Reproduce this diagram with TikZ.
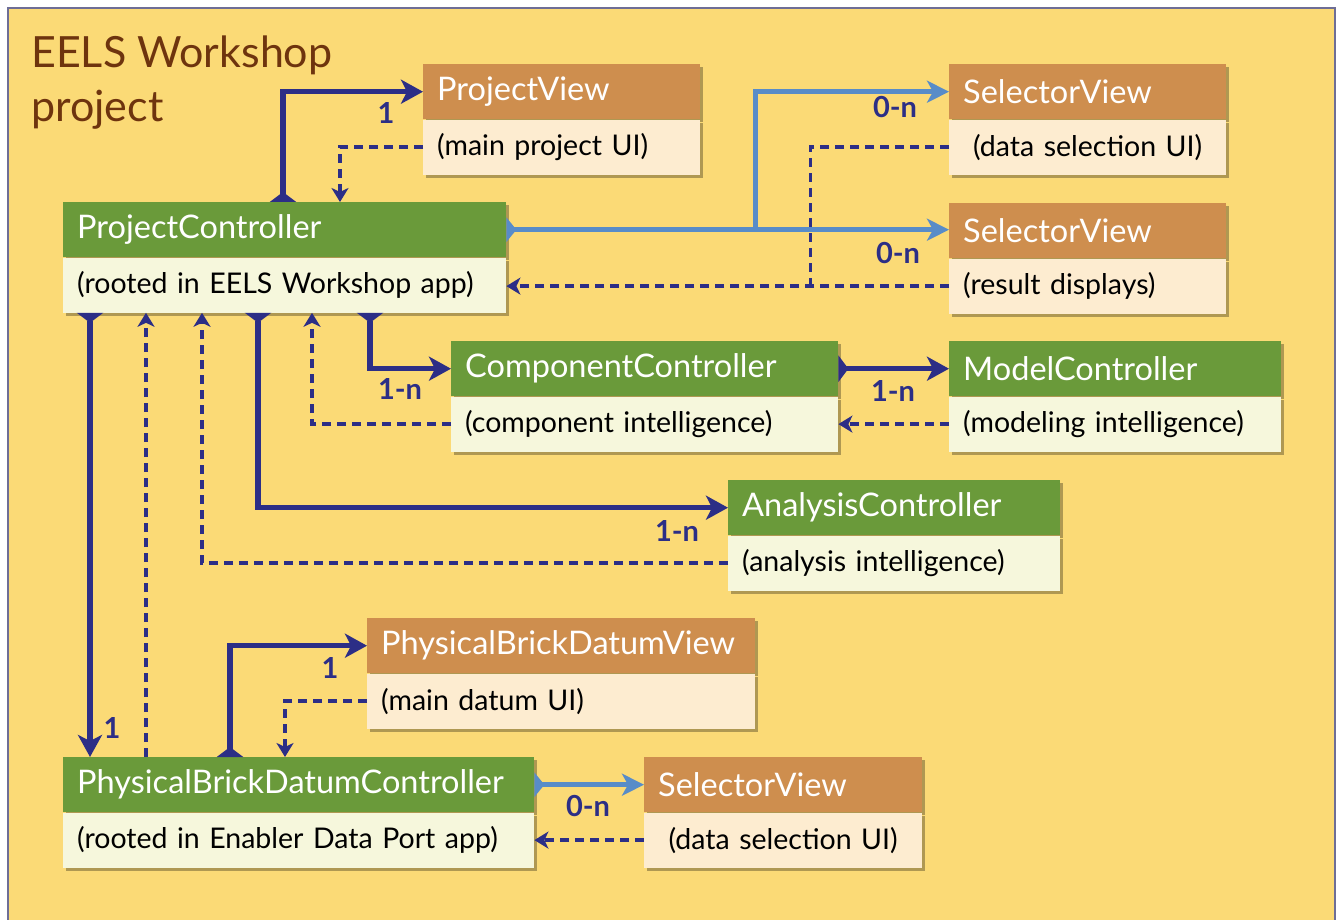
\documentclass[tikz,border=0pt]{standalone}
\usepackage{fontspec}
\setmainfont{Lato}
\usetikzlibrary{arrows.meta,positioning,shadows}
\definecolor{bgyellow}{RGB}{251,218,118}
\definecolor{framecol}{RGB}{110,110,150}
\definecolor{ctrlgreen}{RGB}{106,154,58}
\definecolor{vieworange}{RGB}{206,142,78}
\definecolor{ctrlpale}{RGB}{246,247,220}
\definecolor{viewpale}{RGB}{253,236,208}
\definecolor{navy}{RGB}{44,46,134}
\definecolor{selblue}{RGB}{88,140,200}
\definecolor{headbrown}{RGB}{110,52,14}
\tikzset{
  box/.style={anchor=north west, inner xsep=14pt, inner ysep=0pt, minimum height=55pt, align=left,
    drop shadow={shadow xshift=3pt, shadow yshift=-3pt, opacity=.3, fill=black}},
  ctitle/.style={box, fill=ctrlgreen, text=white, font=\fontsize{32.5}{38}\selectfont},
  vtitle/.style={box, fill=vieworange, text=white, font=\fontsize{32.5}{38}\selectfont},
  csub/.style={box, fill=ctrlpale, font=\fontsize{28.5}{34}\selectfont},
  vsub/.style={box, fill=viewpale, font=\fontsize{28.5}{34}\selectfont},
  own/.style={draw=navy, line width=5.5pt, {Triangle[reversed,length=10pt,width=26pt]}-{Stealth[length=22pt,width=24pt,inset=6pt]}},
  ownbranch/.style={draw=navy, line width=5.5pt},
  sel/.style={draw=selblue, line width=5pt, {Triangle[reversed,length=10pt,width=24pt]}-{Stealth[length=22pt,width=22pt,inset=6pt]}},
  selbranch/.style={draw=selblue, line width=5pt, -{Stealth[length=22pt,width=22pt,inset=6pt]}},
  dep/.style={draw=navy, line width=3.5pt, dash pattern=on 9pt off 6pt},
  back/.style={dep, -{Stealth[length=14pt,width=17pt,inset=4pt]}},
  lbl/.style={text=navy, inner sep=0pt, font=\bfseries\fontsize{29}{34}\selectfont}
}
\begin{document}
\begin{tikzpicture}[x=1pt,y=-1pt,line join=miter]
\useasboundingbox (0,0) rectangle (1339,920);
\fill[white] (0,0) rectangle (1339,920);
\draw[framecol, fill=bgyellow, line width=2pt] (8,8) rectangle (1335,940);
\node[anchor=north west, inner sep=0pt, align=left, text=headbrown, font=\fontsize{43}{54}\selectfont] (heading) at (31,36) {EELS Workshop\\project};

% views
\node[vtitle, text width=249pt] (pv) at (423,64) {ProjectView};
\node[vsub, text width=249pt, below=0pt of pv] (pvsub) {(main project UI)};
\node[vtitle, text width=249pt] (sv1) at (949,64) {SelectorView};
\node[vsub, text width=249pt, align=center, below=0pt of sv1] (sv1sub) {(data selection UI)};
\node[vtitle, text width=249pt] (sv2) at (949,203) {SelectorView};
\node[vsub, text width=249pt, below=0pt of sv2] (sv2sub) {(result displays)};
\node[vtitle, text width=360pt] (pbdv) at (367,618) {PhysicalBrickDatumView};
\node[vsub, text width=360pt, below=0pt of pbdv] (pbdvsub) {(main datum UI)};
\node[vtitle, text width=250pt] (sv3) at (644,757) {SelectorView};
\node[vsub, text width=250pt, align=center, below=0pt of sv3] (sv3sub) {(data selection UI)};

% controllers
\node[ctitle, text width=415pt] (pc) at (63,202) {ProjectController};
\node[csub, text width=415pt, below=0pt of pc] (pcsub) {(rooted in EELS Workshop app)};
\node[ctitle, text width=359pt] (cc) at (451,341) {ComponentController};
\node[csub, text width=359pt, below=0pt of cc] (ccsub) {(component intelligence)};
\node[ctitle, text width=304pt] (mc) at (949,341) {ModelController};
\node[csub, text width=304pt, below=0pt of mc] (mcsub) {(modeling intelligence)};
\node[ctitle, text width=304pt] (ac) at (728,480) {AnalysisController};
\node[csub, text width=304pt, below=0pt of ac] (acsub) {(analysis intelligence)};
\node[ctitle, text width=443pt] (pbdc) at (63,757) {PhysicalBrickDatumController};
\node[csub, text width=443pt, below=0pt of pbdc] (pbdcsub) {(rooted in Enabler Data Port app)};

% ownership
\draw[own] ([xshift=220pt]pc.north west) |- (pv.west) node[lbl, pos=1, xshift=-37pt, yshift=-21pt] {1};
\draw[own] ([xshift=27pt]pcsub.south west) -- ([xshift=27pt]pbdc.north west) node[lbl, pos=1, xshift=22pt, yshift=29pt] {1};
\draw[own] ([xshift=195pt]pcsub.south west) |- (ac.west) node[lbl, pos=1, xshift=-51pt, yshift=-23pt] {1-n};
\draw[own] ([xshift=307pt]pcsub.south west) |- (cc.west) node[lbl, pos=1, xshift=-51pt, yshift=-20pt] {1-n};
\draw[own] (cc.east) -- (mc.west) node[lbl, pos=1, xshift=-56pt, yshift=-22pt] {1-n};
\draw[own] ([xshift=167pt]pbdc.north west) |- (pbdv.west) node[lbl, pos=1, xshift=-37pt, yshift=-22pt] {1};

% selectors
\draw[sel] (pc.east) -- (pc.east -| sv2.west) node[lbl, pos=1, xshift=-51pt, yshift=-23pt] {0-n};
\draw[selbranch] ([xshift=249pt]pc.east) |- (sv1.west) node[lbl, pos=1, xshift=-54pt, yshift=-15pt] {0-n};
\draw[sel] (pbdc.east) -- (sv3.west) node[lbl, pos=1, xshift=-56pt, yshift=-21pt] {0-n};

% back references
\draw[back] (pvsub.west) -| ([xshift=277pt]pc.north west);
\draw[dep] (sv1sub.west) -| ([xshift=304pt]pcsub.east);
\draw[back] (sv2sub.west) -- (sv2sub.west -| pcsub.east);
\draw[back] ([xshift=83pt]pbdc.north west) -- ([xshift=83pt]pcsub.south west);
\draw[back] (acsub.west) -| ([xshift=139pt]pcsub.south west);
\draw[back] (ccsub.west) -| ([xshift=249pt]pcsub.south west);
\draw[back] (mcsub.west) -- (ccsub.east);
\draw[back] (pbdvsub.west) -| ([xshift=222pt]pbdc.north west);
\draw[back] (sv3sub.west) -- (pbdcsub.east);
\end{tikzpicture}
\end{document}
